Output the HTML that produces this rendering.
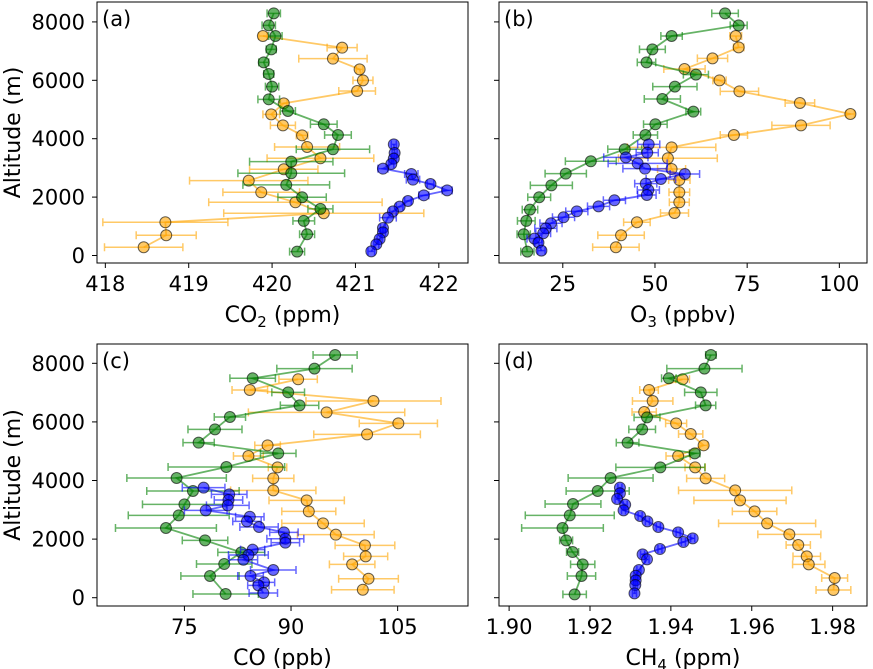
<!DOCTYPE html>
<html><head><meta charset="utf-8">
<style>
html,body{margin:0;padding:0;background:#fff;}
svg{display:block;font-family:"DejaVu Sans","Liberation Sans",sans-serif;}
</style></head>
<body>
<svg id="chart" width="873" height="669" viewBox="0 0 873 669" xmlns="http://www.w3.org/2000/svg"></svg>
<script>
// ---------- tick arrays ----------
const altTicks = [0, 2000, 4000, 6000, 8000];
const co2Ticks = [418, 419, 420, 421, 422];
const o3Ticks = [25, 50, 75, 100];
const coTicks = [75, 90, 105];
const ch4Ticks = [1.90, 1.92, 1.94, 1.96, 1.98];
const co2TickLabels = ["418", "419", "420", "421", "422"];
const o3TickLabels = ["25", "50", "75", "100"];
const coTickLabels = ["75", "90", "105"];
const ch4TickLabels = ["1.90", "1.92", "1.94", "1.96", "1.98"];

// ---------- panel (a) CO2 ----------
const aGreenAlt = [8294,7883,7518,7061,6616,6217,5783,5349,4949,4493,4128,3637,3216,2816,2417,1994,1595,1184,727,134];
const aGreenVal = [420.02,419.96,420.04,419.99,419.90,419.96,420.00,419.96,420.19,420.62,420.79,420.73,420.23,420.23,420.17,420.36,420.58,420.38,420.42,420.30];
const aGreenErr = [0.08,0.08,0.08,0.06,0.06,0.06,0.08,0.13,0.09,0.16,0.16,0.44,0.5,0.64,0.52,0.29,0.15,0.13,0.09,0.09];
const aOrangeAlt = [7517,7118,6741,6376,5999,5634,5212,4835,4458,4116,3717,3329,2952,2564,2164,1822,1446,1138,693,282];
const aOrangeVal = [419.89,420.84,420.73,421.05,421.09,421.02,420.14,419.99,420.13,420.36,420.42,420.58,420.14,419.72,419.87,420.28,420.62,418.72,418.73,418.46];
const aOrangeErr = [0.05,0.18,0.41,0.04,0.12,0.22,0.04,0.1,0.15,0.07,0.39,0.64,0.41,0.71,0.46,1.04,1.2,0.75,0.36,0.47];
const aBlueAlt = [3807,3510,3316,3134,2974,2791,2597,2449,2232,2061,1867,1673,1513,1296,942,794,566,383,143];
const aBlueVal = [421.46,421.47,421.46,421.43,421.33,421.67,421.69,421.90,422.10,421.82,421.63,421.53,421.45,421.39,421.33,421.33,421.29,421.25,421.19];
const aBlueErr = [0.03,0.03,0.03,0.03,0.06,0.08,0.08,0.04,0.06,0.06,0.04,0.04,0.04,0.1,0.03,0.03,0.03,0.03,0.04];

// ---------- panel (b) O3 ----------
const bGreenAlt = [8294,7883,7518,7061,6616,6194,5783,5360,4926,4493,4128,3637,3226,2803,2403,1994,1571,1184,727,134];
const bGreenVal = [69.0,72.7,54.5,49.3,47.7,61.1,55.4,52.0,60.4,50.1,47.4,41.8,32.6,25.8,21.9,18.6,16.1,15.1,14.4,15.4];
const bGreenErr = [3.6,2.3,2.9,3.5,2.5,3.4,6.0,4.9,2.0,3.2,3.3,4.6,6.9,5.6,5.7,3.1,2.1,2.4,1.8,1.8];
const bOrangeAlt = [7517,7129,6752,6387,5999,5623,5223,4846,4458,4127,3705,3329,2963,2586,2164,1822,1457,1138,693,282];
const bOrangeVal = [71.9,72.7,65.6,58.0,67.5,72.9,89.3,103.0,89.6,71.4,54.5,53.5,54.5,56.6,56.6,56.6,55.3,45.1,40.8,39.4];
const bOrangeErr = [1.6,1.4,4.1,5.6,1.8,5.2,4.0,1.1,7.9,3.7,12.0,13.4,3.8,2.9,2.8,2.7,3.8,3.6,6.3,6.3];
const bBlueAlt = [3807,3522,3362,3157,2974,2791,2620,2460,2243,2072,1890,1684,1513,1308,1103,931,760,577,440,166];
const bBlueVal = [48.3,47.9,42.1,45.3,47.3,58.1,51.6,47.5,48.2,47.8,39.0,34.7,28.8,25.2,21.8,20.4,19.7,17.3,18.4,19.2];
const bBlueErr = [3,3,6,8,6,4,4,3,3,2.5,3,3,3,3,3,3,2,2,1,1];

// ---------- panel (c) CO ----------
const cGreenAlt = [8285,7818,7488,7010,6566,6168,5747,5292,4927,4461,4086,3642,3187,2811,2379,1958,1548,1149,740,125];
const cGreenVal = [96.2,93.3,84.6,89.6,91.2,81.4,79.3,77.0,88.2,80.9,73.9,76.2,75.0,74.2,72.4,77.9,83.0,80.6,78.6,80.8];
const cGreenErr = [3.1,5.3,3.2,2.3,2.7,2.2,3.8,2.2,2.5,8.2,7.0,6.5,5.9,7.1,7.1,3.2,3.3,3.9,4.1,4.6];
const cOrangeAlt = [7454,7090,6714,6327,5952,5576,5201,4837,4450,4074,3664,3323,2947,2538,2151,1787,1411,1138,649,273];
const cOrangeVal = [91.0,84.2,101.6,95.0,105.1,100.7,86.7,84.0,88.1,87.5,87.5,92.2,92.5,94.5,96.3,100.4,100.5,98.6,100.9,100.1];
const cOrangeErr = [2.7,2.5,9.5,11,5.5,7.5,1.8,2.1,1.3,2.9,6,5.3,3.8,5.8,5.4,4.2,3.1,3.2,4.2,4.4];
const cBlueAlt = [3755,3528,3334,3152,2982,2765,2606,2413,2231,2014,1878,1639,1457,1297,945,740,523,421,159];
const cBlueVal = [77.7,81.3,81.2,81.1,78.0,84.2,83.8,85.5,89.0,89.2,89.2,84.6,84.0,83.3,87.5,84.3,86.2,85.4,86.1];
const cBlueErr = [3,2.5,2,3,3,2,2,2.7,2,2.6,2,1.7,2.8,2,3.2,1.8,1.5,1.5,2];

// ---------- panel (d) CH4 ----------
const dGreenAlt = [8285,7818,7488,7010,6566,6156,5747,5292,4927,4450,4086,3642,3198,2811,2379,1958,1559,1138,740,114];
const dGreenVal = [1.9499,1.9483,1.9395,1.9474,1.9486,1.9341,1.9329,1.9293,1.9459,1.9374,1.9251,1.9219,1.9158,1.9150,1.9132,1.9141,1.9157,1.9182,1.9179,1.9162];
const dGreenErr = [0.0013,0.0093,0.0018,0.004,0.0025,0.0032,0.0033,0.0028,0.0013,0.011,0.0105,0.0078,0.0069,0.011,0.0101,0.0016,0.0015,0.003,0.0035,0.0029];
const dOrangeAlt = [7454,7090,6714,6339,5952,5588,5201,4837,4450,4074,3664,3323,2947,2538,2162,1798,1411,1138,671,262];
const dOrangeVal = [1.9429,1.9346,1.9355,1.9334,1.9413,1.9449,1.9481,1.9418,1.9460,1.9486,1.9559,1.9571,1.9607,1.9638,1.9693,1.9715,1.9736,1.9741,1.9805,1.9802];
const dOrangeErr = [0.0017,0.0023,0.005,0.003,0.0026,0.003,0.001,0.003,0.0025,0.0047,0.014,0.0114,0.0055,0.012,0.0078,0.003,0.0034,0.004,0.0032,0.0043];
const dBlueAlt = [3755,3562,3368,3175,2982,2788,2606,2413,2231,2026,1900,1661,1479,1309,945,751,592,432,148];
const dBlueVal = [1.9274,1.9274,1.9267,1.9287,1.9283,1.9324,1.9342,1.9369,1.9418,1.9454,1.9431,1.9373,1.9330,1.9341,1.9321,1.9313,1.9313,1.9312,1.9310];
const dBlueErr = [0.0005,0.0005,0.0005,0.0005,0.0005,0.0005,0.0005,0.0005,0.0005,0.0005,0.0005,0.0005,0.0005,0.0005,0.0005,0.0005,0.0005,0.0005,0.0005];

const NS = "http://www.w3.org/2000/svg";
const svg = document.getElementById("chart");
function mk(tag, attrs, parent) {
  const e = document.createElementNS(NS, tag);
  for (const k in attrs) e.setAttribute(k, attrs[k]);
  (parent || svg).appendChild(e);
  return e;
}
const COLORS = { green: "#008000", orange: "#FFA500", blue: "#0000FF" };

function panel(cfg) {
  const g = mk("g", {});
  
  
  const xs = v => cfg.L + (v - cfg.x0) / (cfg.x1 - cfg.x0) * (cfg.R - cfg.L);
  const ys = a => cfg.B - (a - cfg.y0) / (cfg.y1 - cfg.y0) * (cfg.B - cfg.T);
  cfg.series.forEach(s => {
    const sg = mk("g", {}, g);
    
    
    const col = COLORS[s.name];
    let pts = s.alt.map((a, i) => xs(s.val[i]).toFixed(2) + "," + ys(a).toFixed(2)).join(" ");
    const line = mk("polyline", { points: pts, fill: "none", stroke: col, "stroke-width": 1.8, "stroke-opacity": 0.6 }, sg);
    
    
    s.alt.forEach((a, i) => {
      const y = ys(a), xl = xs(s.val[i] - s.err[i]), xr = xs(s.val[i] + s.err[i]);
      const eb = mk("path", { d: `M${xl},${y}H${xr}M${xl},${y-4}V${y+4}M${xr},${y-4}V${y+4}`, stroke: col, "stroke-width": 1.5, "stroke-opacity": 0.6, fill: "none" }, sg);
      
      
    });
    s.alt.forEach((a, i) => {
      const c = mk("circle", { cx: xs(s.val[i]), cy: ys(a), r: 5.5, fill: col, "fill-opacity": 0.6, stroke: "#000", "stroke-opacity": 0.6, "stroke-width": 1 }, sg);
      
      
    });
  });
  const fr = mk("rect", { x: cfg.L, y: cfg.T, width: cfg.R - cfg.L, height: cfg.B - cfg.T, fill: "none", stroke: "#000", "stroke-width": 1 }, g);
  
  
  cfg.xt.forEach((v, i) => {
    const x = xs(v);
    mk("line", { x1: x, x2: x, y1: cfg.B, y2: cfg.B + 5, stroke: "#000", "stroke-width": 1 }, g);
    const t = mk("text", { x: x, y: cfg.B + 28, "text-anchor": "middle", "font-size": 21 }, g);
    t.textContent = cfg.xtl[i];
    
    
  });
  altTicks.forEach(a => {
    const y = ys(a);
    mk("line", { x1: cfg.L - 5, x2: cfg.L, y1: y, y2: y, stroke: "#000", "stroke-width": 1 }, g);
    if (cfg.ylabels) {
      const t = mk("text", { x: cfg.L - 12, y: y + 7.5, "text-anchor": "end", "font-size": 21 }, g);
      t.textContent = String(a);
      
      
    }
  });
  const pl = mk("text", { x: cfg.L + 5, y: cfg.T + 24, "font-size": 21 }, g);
  pl.textContent = "(" + cfg.id + ")";
  
  
  const xl = mk("text", { x: (cfg.L + cfg.R) / 2, y: cfg.B + 59, "text-anchor": "middle", "font-size": 22 }, g);
  xl.innerHTML = cfg.xlabel;
  
  
  if (cfg.ylabels) {
    const cy = (cfg.T + cfg.B) / 2;
    const yl = mk("text", { x: 20, y: cy, "text-anchor": "middle", "font-size": 22, transform: `rotate(-90 20 ${cy})` }, g);
    yl.textContent = "Altitude (m)";
    
    
  }
}

panel({ id: "a", L: 97, R: 468, T: 2, B: 263, x0: 417.90, x1: 422.35, y0: -257, y1: 8682,
  xt: co2Ticks, xtl: co2TickLabels, ylabels: true,
  xlabel: 'CO<tspan font-size="15" dy="5">2</tspan><tspan dy="-5"> (ppm)</tspan>',
  series: [
    { name: "orange", alt: aOrangeAlt, val: aOrangeVal, err: aOrangeErr },
    { name: "blue", alt: aBlueAlt, val: aBlueVal, err: aBlueErr },
    { name: "green", alt: aGreenAlt, val: aGreenVal, err: aGreenErr }] });
panel({ id: "b", L: 499, R: 867, T: 2, B: 263, x0: 7.7, x1: 107.5, y0: -257, y1: 8682,
  xt: o3Ticks, xtl: o3TickLabels, ylabels: false,
  xlabel: 'O<tspan font-size="15" dy="5">3</tspan><tspan dy="-5"> (ppbv)</tspan>',
  series: [
    { name: "orange", alt: bOrangeAlt, val: bOrangeVal, err: bOrangeErr },
    { name: "green", alt: bGreenAlt, val: bGreenVal, err: bGreenErr },
    { name: "blue", alt: bBlueAlt, val: bBlueVal, err: bBlueErr }] });
panel({ id: "c", L: 97, R: 468, T: 344, B: 606, x0: 62.7, x1: 114.9, y0: -283, y1: 8659,
  xt: coTicks, xtl: coTickLabels, ylabels: true,
  xlabel: 'CO (ppb)',
  series: [
    { name: "orange", alt: cOrangeAlt, val: cOrangeVal, err: cOrangeErr },
    { name: "green", alt: cGreenAlt, val: cGreenVal, err: cGreenErr },
    { name: "blue", alt: cBlueAlt, val: cBlueVal, err: cBlueErr }] });
panel({ id: "d", L: 499, R: 867, T: 344, B: 606, x0: 1.8975, x1: 1.9885, y0: -283, y1: 8659,
  xt: ch4Ticks, xtl: ch4TickLabels, ylabels: false,
  xlabel: 'CH<tspan font-size="15" dy="5">4</tspan><tspan dy="-5"> (ppm)</tspan>',
  series: [
    { name: "orange", alt: dOrangeAlt, val: dOrangeVal, err: dOrangeErr },
    { name: "green", alt: dGreenAlt, val: dGreenVal, err: dGreenErr },
    { name: "blue", alt: dBlueAlt, val: dBlueVal, err: dBlueErr }] });
</script>
</body></html>
